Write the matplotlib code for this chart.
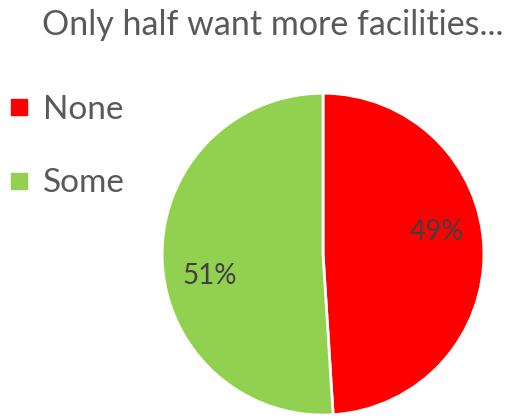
import numpy as np
import matplotlib.pyplot as plt
from matplotlib.lines import Line2D

plt.rcParams['font.family'] = ['Lato', 'DejaVu Sans']

categories = ["None", "Some"]
shares = [49, 51]
colors = ["#FF0000", "#92D050"]
title = "Only half want more facilities..."

fig = plt.figure(figsize=(5.16, 4.19), dpi=100)
ax = fig.add_axes([0.314, 0.0095, 0.624, 0.768])

wedges, texts, autotexts = ax.pie(
    shares, colors=colors, startangle=90, counterclock=False,
    autopct="%d%%", pctdistance=0.72,
    wedgeprops=dict(edgecolor="white", linewidth=2),
    textprops=dict(color="#404040", fontsize=20),
)
ax.set_xlim(-1, 1)
ax.set_ylim(-1, 1)
ax.set_aspect("equal")

# nudge the percentage labels the way the original tool places them
rot = np.deg2rad(9)
for t in autotexts:
    x, y = t.get_position()
    t.set_position((x * np.cos(rot) - y * np.sin(rot), x * np.sin(rot) + y * np.cos(rot)))

fig.text(0.528, 0.94, title, ha="center", va="center", fontsize=24.5, color="#595959")

handles = [Line2D([], [], marker="s", linestyle="none", markersize=11.5,
                  markerfacecolor=c, markeredgecolor=c) for c in colors]
fig.legend(handles, categories, loc="upper left", bbox_to_anchor=(-0.04, 0.845),
           frameon=False, fontsize=24, labelcolor="#595959",
           handlelength=0.6, handletextpad=0.4, labelspacing=1.3)

fig.savefig("out.png", dpi=100)
